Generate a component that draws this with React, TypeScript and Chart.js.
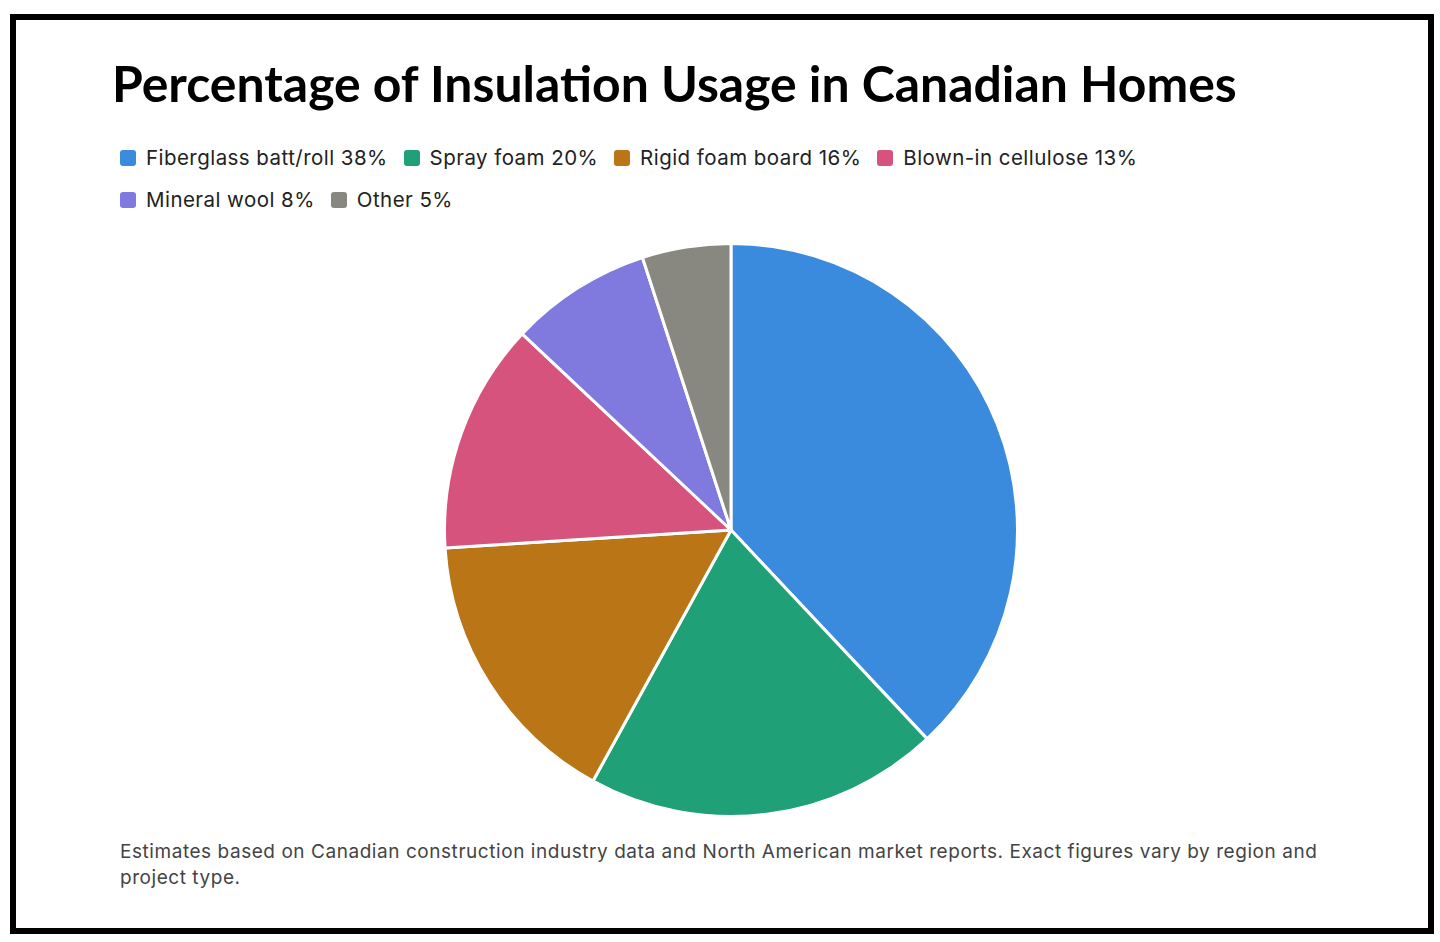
import React, { useEffect, useRef } from "react";
import { Chart, registerables } from "chart.js";

Chart.register(...registerables);

const TITLE = "Percentage of Insulation Usage in Canadian Homes";
const CATEGORIES = [
  "Fiberglass batt/roll",
  "Spray foam",
  "Rigid foam board",
  "Blown-in cellulose",
  "Mineral wool",
  "Other",
];
const VALUES = [38, 20, 16, 13, 8, 5];
const COLORS = ["#3A8BDE", "#1FA077", "#B97516", "#D5537D", "#8079DE", "#888780"];
const FOOTNOTE =
  "Estimates based on Canadian construction industry data and North American market reports. Exact figures vary by region and project type.";

export default function App() {
  const canvasRef = useRef<HTMLCanvasElement | null>(null);

  useEffect(() => {
    if (!canvasRef.current) return;
    const chart = new Chart(canvasRef.current, {
      type: "pie",
      data: {
        labels: CATEGORIES,
        datasets: [
          {
            data: VALUES,
            backgroundColor: COLORS,
            borderColor: "#ffffff",
            borderWidth: 3,
          },
        ],
      },
      options: {
        animation: false,
        responsive: false,
        maintainAspectRatio: false,
        layout: { padding: 0 },
        plugins: {
          legend: { display: false },
          title: { display: false },
          tooltip: { enabled: false },
        },
      },
    });
    return () => chart.destroy();
  }, []);

  return (
    <div>
      <div
        style={{
          position: "absolute",
          left: 10,
          top: 14,
          width: 1424,
          height: 920,
          border: "6px solid #000",
          boxSizing: "border-box",
          background: "#fff",
        }}
      />
      <div
        style={{
          position: "absolute",
          left: 112,
          top: 58,
          fontFamily: "Lato, 'Open Sans', sans-serif",
          fontWeight: 700,
          fontSize: 49.9,
          lineHeight: "50px",
          color: "#000",
          whiteSpace: "nowrap",
        }}
      >
        {TITLE}
      </div>
      <div
        style={{
          position: "absolute",
          left: 120,
          top: 146,
          width: 1210,
          display: "flex",
          flexWrap: "wrap",
          columnGap: 16,
          rowGap: 18,
          fontFamily: "Inter, 'Noto Sans', sans-serif",
          fontSize: 20.5,
          letterSpacing: 0.45,
          lineHeight: "24px",
          color: "#222",
        }}
      >
        {CATEGORIES.map((c, i) => (
          <div key={c} style={{ display: "flex", alignItems: "center", whiteSpace: "nowrap" }}>
            <span
              style={{
                display: "inline-block",
                width: 16,
                height: 16,
                borderRadius: 3,
                background: COLORS[i],
                marginRight: 10,
              }}
            />
            <span>{`${c} ${VALUES[i]}%`}</span>
          </div>
        ))}
      </div>
      <canvas
        ref={canvasRef}
        width={576}
        height={576}
        style={{ position: "absolute", left: 443, top: 242, width: 576, height: 576 }}
      />
      <div
        style={{
          position: "absolute",
          left: 120,
          top: 839,
          width: 1210,
          fontFamily: "Inter, 'Noto Sans', sans-serif",
          fontSize: 19,
          letterSpacing: 0.55,
          lineHeight: "26px",
          color: "#444",
        }}
      >
        {FOOTNOTE}
      </div>
    </div>
  );
}
